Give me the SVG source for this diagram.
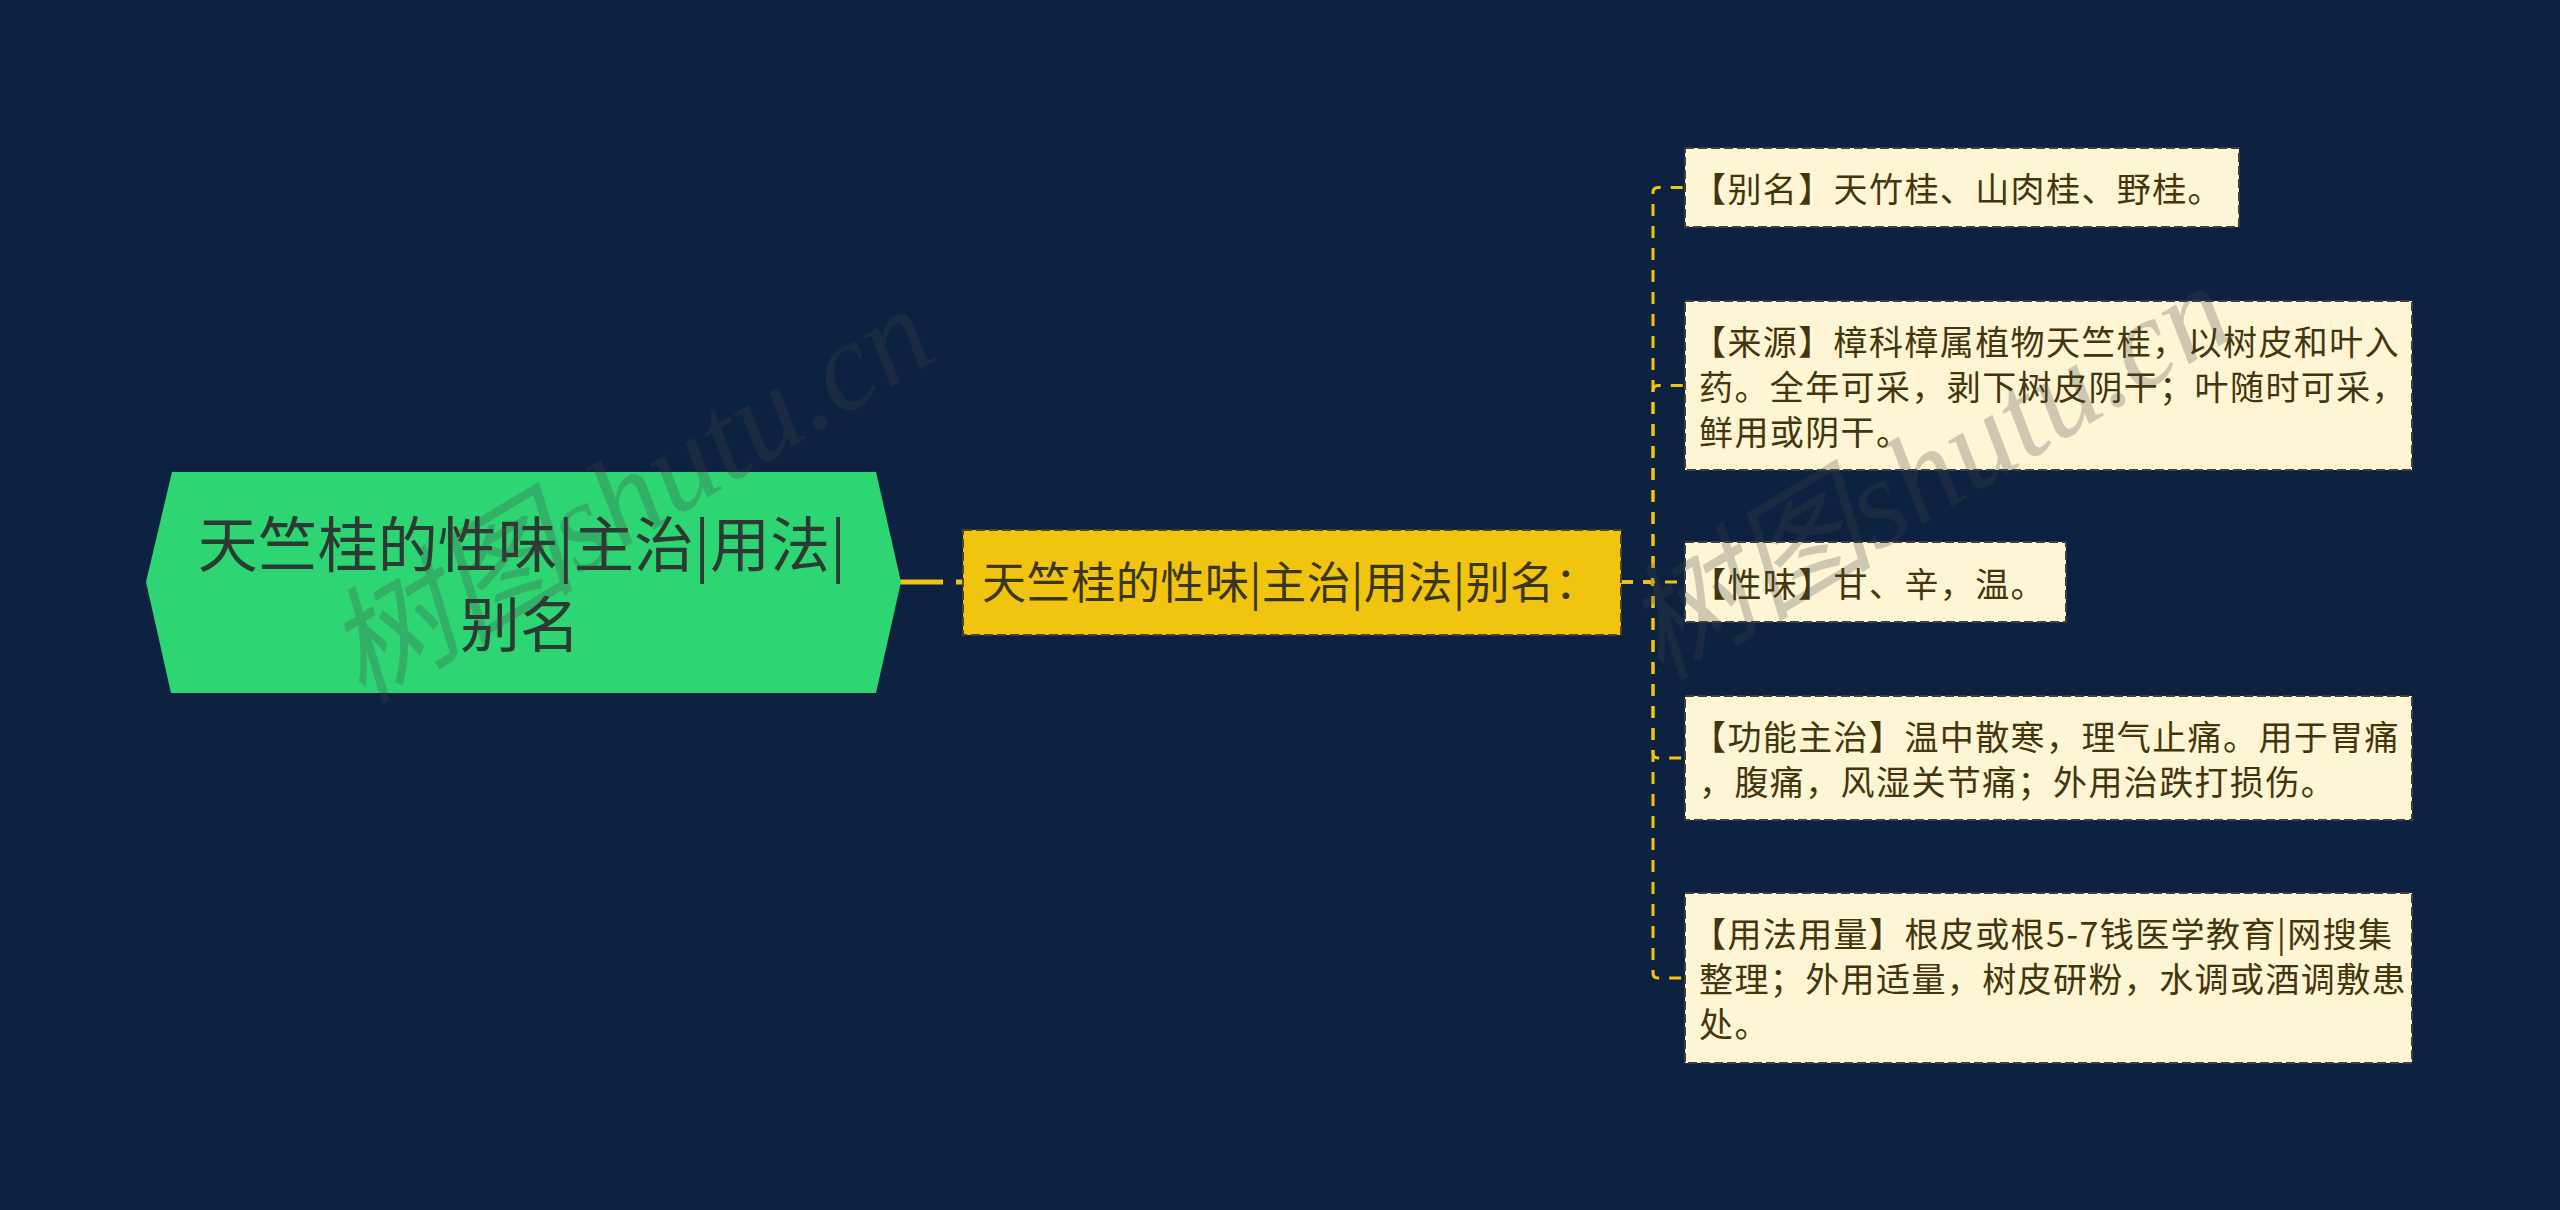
<svg xmlns="http://www.w3.org/2000/svg" width="2560" height="1210" viewBox="0 0 2560 1210">
<style>
.bg{fill:#0c2240}
.root-shape{fill:#2ed573}
.root-text{font-family:"Noto Sans CJK SC","Noto Sans",sans-serif;font-size:60px;fill:#2d3a33;text-anchor:middle}
.mid-box{fill:#f1c40f;stroke:#4d4418;stroke-width:2;stroke-dasharray:9 4}
.mid-text{font-family:"Noto Sans CJK SC","Noto Sans",sans-serif;font-size:44px;letter-spacing:0.6px;fill:#3b3619}
.leaf-box{fill:#fdf5d4;stroke:#3e3e3e;stroke-width:2;stroke-dasharray:9 4}
.leaf-text{font-family:"Noto Sans CJK SC","Noto Sans",sans-serif;font-size:34px;letter-spacing:1.4px;fill:#44360c}
.conn{fill:none;stroke:#f1c40f;stroke-width:3;stroke-dasharray:12 10}
.wm{font-family:"Liberation Serif","Noto Sans CJK SC",serif;font-style:italic;font-size:126px;fill:#444444;fill-opacity:0.25}
</style>
<rect class="bg" x="0" y="0" width="2560" height="1210"/>

<g id="connectors">
<line x1="900" y1="582" x2="963" y2="582" stroke="#f1c40f" stroke-width="5" stroke-dasharray="43 13"/>
<path class="conn" d="M1621,582 H1648 Q1653,582 1653,577 V192.5 Q1653,187.5 1658,187.5 H1685"/>
<path class="conn" d="M1621,582 H1648 Q1653,582 1653,577 V390.5 Q1653,385.5 1658,385.5 H1685"/>
<path class="conn" d="M1621,582 H1685"/>
<path class="conn" d="M1621,582 H1648 Q1653,582 1653,587 V753 Q1653,758 1658,758 H1685"/>
<path class="conn" d="M1621,582 H1648 Q1653,582 1653,587 V973 Q1653,978 1658,978 H1685"/>
</g>

<g id="root">
<polygon class="root-shape" points="146,582 172,472 876,472 901,582 876,693 171,693"/>
<text class="root-text" x="522" y="567">天竺桂的性味|主治|用法|</text>
<text class="root-text" x="520" y="647">别名</text>
</g>

<g id="middle">
<rect class="mid-box" x="963" y="530" width="658" height="105"/>
<text class="mid-text" x="982" y="599">天竺桂的性味|主治|用法|别名：</text>
</g>

<g id="leaf-alias">
<rect class="leaf-box" x="1685" y="148" width="554" height="79"/>
<text class="leaf-text" x="1692" y="202">【别名】天竹桂、山肉桂、野桂。</text>
</g>

<g id="leaf-source">
<rect class="leaf-box" x="1685" y="301" width="727" height="169"/>
<text class="leaf-text" x="1692" y="355">【来源】樟科樟属植物天竺桂，以树皮和叶入</text>
<text class="leaf-text" x="1699" y="400">药。全年可采，剥下树皮阴干；叶随时可采，</text>
<text class="leaf-text" x="1699" y="445">鲜用或阴干。</text>
</g>

<g id="leaf-taste">
<rect class="leaf-box" x="1685" y="542" width="381" height="80"/>
<text class="leaf-text" x="1692" y="597">【性味】甘、辛，温。</text>
</g>

<g id="leaf-function">
<rect class="leaf-box" x="1685" y="696" width="727" height="124"/>
<text class="leaf-text" x="1692" y="750">【功能主治】温中散寒，理气止痛。用于胃痛</text>
<text class="leaf-text" x="1699" y="795">，腹痛，风湿关节痛；外用治跌打损伤。</text>
</g>

<g id="leaf-usage">
<rect class="leaf-box" x="1685" y="893" width="727" height="170"/>
<text class="leaf-text" x="1692" y="947">【用法用量】根皮或根5-7钱医学教育|网搜集</text>
<text class="leaf-text" x="1699" y="992">整理；外用适量，树皮研粉，水调或酒调敷患</text>
<text class="leaf-text" x="1699" y="1037">处。</text>
</g>

<g id="watermarks">
<text class="wm" transform="translate(362,705) rotate(-31)">树图shutu.cn</text>
<text class="wm" transform="translate(1660,682) rotate(-31)">树图shutu.cn</text>
</g>
</svg>
